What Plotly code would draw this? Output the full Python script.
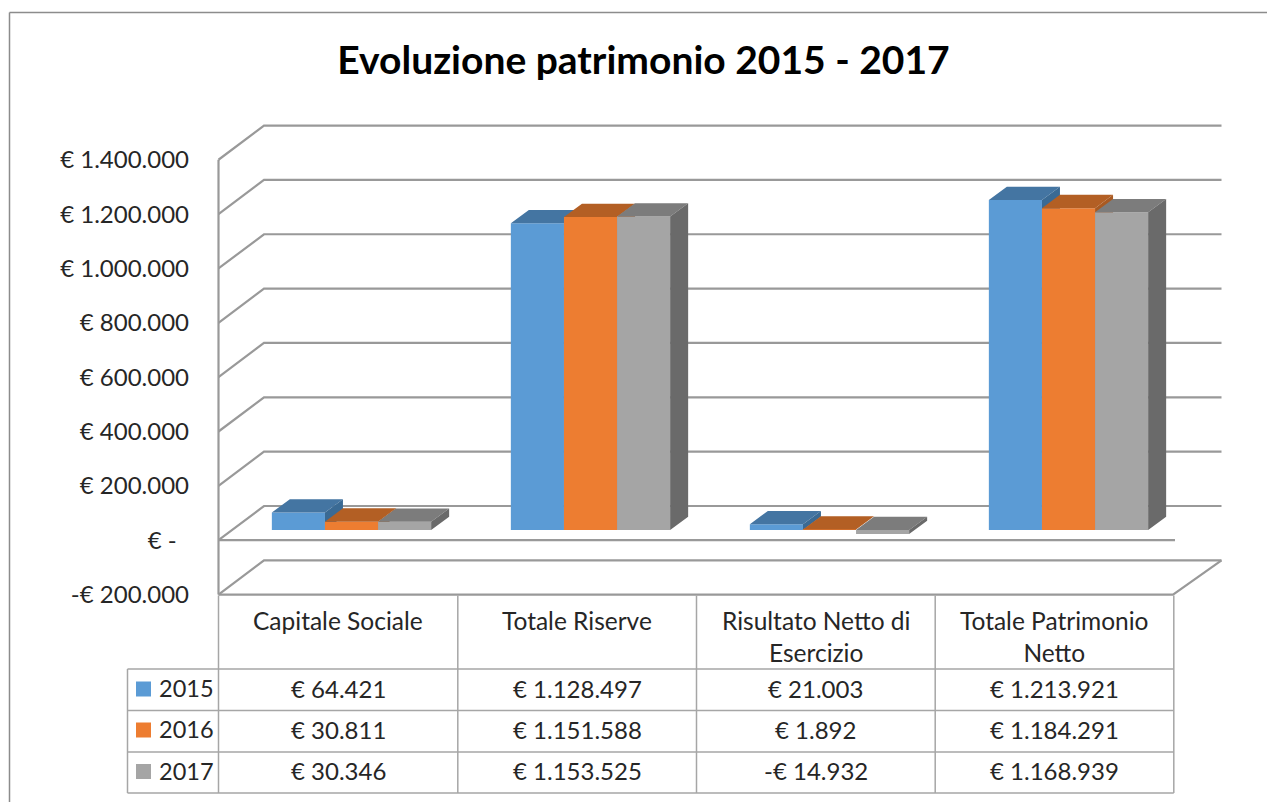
import plotly.graph_objects as go

# ---- data -------------------------------------------------------------
categories = ["Capitale Sociale", "Totale Riserve", "Risultato Netto di<br>Esercizio", "Totale Patrimonio<br>Netto"]
years = ["2015", "2016", "2017"]
values_2015 = [64421, 1128497, 21003, 1213921]
values_2016 = [30811, 1151588, 1892, 1184291]
values_2017 = [30346, 1153525, -14932, 1168939]
y_ticks = [-200000, 0, 200000, 400000, 600000, 800000, 1000000, 1200000, 1400000]
title_text = "Evoluzione patrimonio 2015 - 2017"

# ---- style / layout -----------------------------------------------------
W, H = 1267, 802
FONT = "Lato"
TXT = "#262626"
GRID = "#999999"
FACE = ["#5b9bd5", "#ed7d31", "#a5a5a5"]
TOP = ["#4475a2", "#b35f24", "#7c7c7c"]
SIDE = ["#3a6a94", "#a95a22", "#6a6a6a"]

PX_L, PX_R, PX_T, PX_B = 205, 1235, 110, 610   # plot area in pixels
CAT_PITCH = 239.0
CAT0 = 351.5          # pixel centre of first bar group
BAR_W = 53.1 / CAT_PITCH
PX_PER_UNIT = 54.35 / 200000
FRONT_ZERO = 540.2    # wall (front) zero line
BAR_ZERO = 530.0      # bars' zero line


def xval(px):
    return (px - CAT0) / CAT_PITCH


def yrange(zero):
    return [(zero - PX_B) / PX_PER_UNIT, (zero - PX_T) / PX_PER_UNIT]


def paper_x(px):
    return (px - PX_L) / (PX_R - PX_L)


def paper_y(py):
    return (PX_B - py) / (PX_B - PX_T)


def money(v):
    s = f"{abs(v):,}".replace(",", ".")
    return ("-€ " if v < 0 else "€ ") + s


def tick_label(v):
    return "€ -\u00a0\u00a0" if v == 0 else money(v)


fig = go.Figure()

# ---- 3-D walls, derived from the tick values ------------------------------
wall_dx = 45.5 / CAT_PITCH
wall_dy = 34.2 / PX_PER_UNIT
x_left = xval(218.5)
x_back_right = xval(1221.5)
wx, wy = [], []
for t in y_ticks:
    wx += [x_left, x_left + wall_dx, x_back_right, None]
    wy += [t, t + wall_dy, t + wall_dy, None]
wx += [x_left, x_left, None]
wy += [y_ticks[0], y_ticks[-1], None]
# front floor edges and right floor edge
wx += [x_left, xval(1175), None, x_left, xval(1173), x_back_right, None]
wy += [0, 0, None, y_ticks[0], y_ticks[0], y_ticks[0] + wall_dy, None]
fig.add_trace(go.Scatter(x=wx, y=wy, mode="lines", line=dict(color=GRID, width=2.2),
                         hoverinfo="skip", showlegend=False, cliponaxis=False, yaxis="y"))

# ---- bars + their depth faces ----------------------------------------------
bar_dx = 18.0 / CAT_PITCH
bar_dy = 13.3 / PX_PER_UNIT
series = [values_2015, values_2016, values_2017]
for i, (name, vals) in enumerate(zip(years, series)):
    ax = f"y{i + 2}"
    off = (i - 1.5) * BAR_W
    xs = list(range(len(vals)))
    fig.add_trace(go.Bar(x=xs, y=vals, width=BAR_W, offset=off, name=name,
                         marker=dict(color=FACE[i], line=dict(width=0)),
                         showlegend=False, yaxis=ax))
    tx, ty, sx, sy = [], [], [], []
    for x0, v in zip(xs, vals):
        xl = x0 + off
        xr = xl + BAR_W
        top, bot = max(v, 0), min(v, 0)
        tx += [xl, xl + bar_dx, xr + bar_dx, xr, xl, None]
        ty += [top, top + bar_dy, top + bar_dy, top, top, None]
        sx += [xr, xr + bar_dx, xr + bar_dx, xr, xr, None]
        sy += [bot, bot + bar_dy, top + bar_dy, top, bot, None]
    fig.add_trace(go.Scatter(x=tx, y=ty, mode="lines", fill="toself", fillcolor=TOP[i],
                             line=dict(width=0, color=TOP[i]), hoverinfo="skip",
                             showlegend=False, yaxis=ax))
    fig.add_trace(go.Scatter(x=sx, y=sy, mode="lines", fill="toself", fillcolor=SIDE[i],
                             line=dict(width=0, color=SIDE[i]), hoverinfo="skip",
                             showlegend=False, yaxis=ax))

# ---- data table -------------------------------------------------------------
COLS = [218.5, 457.8, 696.5, 935.2, 1173.8]
ROWS = [669, 710.5, 752, 793]
TAB_L = 127.5
TAB_TOP = 595.5
shapes, annotations = [], []


def seg(x0, y0, x1, y1, color="#a6a6a6", width=1.5):
    shapes.append(dict(type="line", xref="paper", yref="paper",
                       x0=paper_x(x0), x1=paper_x(x1), y0=paper_y(y0), y1=paper_y(y1),
                       line=dict(color=color, width=width)))


seg(9.5, 12.5, 1267, 12.5, "#8c8c8c", 1.5)
seg(9.5, 12.5, 9.5, 802, "#8c8c8c", 1.5)
for r in ROWS:
    seg(TAB_L, r, COLS[-1], r)
seg(TAB_L, ROWS[0], TAB_L, ROWS[-1])
for c in COLS:
    seg(c, TAB_TOP, c, ROWS[-1])


def label(px, py, text, size=24, anchor="center"):
    annotations.append(dict(xref="paper", yref="paper", x=paper_x(px), y=paper_y(py),
                            text=text, showarrow=False, xanchor=anchor, yanchor="middle",
                            font=dict(family=FONT, size=size, color=TXT)))


centres = [(COLS[k] + COLS[k + 1]) / 2 for k in range(4)]
for cx, name in zip(centres, categories):
    label(cx, 636 if "<br>" in name else 620, name, 24.5)
row_mid = [689, 730, 771.5]
for j, (yr, vals) in enumerate(zip(years, series)):
    shapes.append(dict(type="rect", xref="paper", yref="paper", line=dict(width=0),
                       fillcolor=FACE[j], x0=paper_x(136), x1=paper_x(151),
                       y0=paper_y(row_mid[j] + 7.5), y1=paper_y(row_mid[j] - 7.5)))
    label(156.5, row_mid[j] - 1, yr, 23.5, "left")
    for cx, v in zip(centres, vals):
        label(cx, row_mid[j] - 1, money(v), 24)

# ---- layout -------------------------------------------------------------------
hidden = dict(visible=False, overlaying="y", fixedrange=True)
fig.update_layout(
    width=W, height=H, autosize=False,
    paper_bgcolor="white", plot_bgcolor="white",
    margin=dict(l=PX_L, r=W - PX_R, t=PX_T, b=H - PX_B, autoexpand=False, pad=0),
    showlegend=False,
    barmode="overlay",
    title=dict(text=title_text, xref="container", yref="container",
               x=643.5 / W, y=1 - 60 / H, xanchor="center", yanchor="middle",
               font=dict(family=FONT, size=39, color="#000000", weight=700)),
    xaxis=dict(visible=False, range=[xval(PX_L), xval(PX_R)], fixedrange=True),
    yaxis=dict(range=yrange(FRONT_ZERO), tickmode="array", tickvals=y_ticks,
               ticktext=[tick_label(t) for t in y_ticks], ticks="",
               showgrid=False, zeroline=False, showline=False, fixedrange=True,
               ticklabelstandoff=15, tickfont=dict(family=FONT, size=24, color=TXT)),
    yaxis2=dict(range=yrange(BAR_ZERO), **hidden),
    yaxis3=dict(range=yrange(BAR_ZERO), **hidden),
    yaxis4=dict(range=yrange(BAR_ZERO), **hidden),
    shapes=shapes, annotations=annotations,
)

fig.write_html("out.html", post_script="document.body.style.margin='0';document.body.style.overflow='hidden';",
               config={"displayModeBar": False})
